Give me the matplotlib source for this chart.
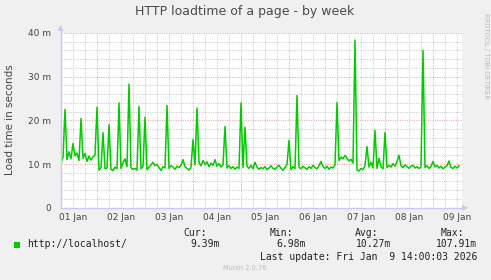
"""Munin style weekly graph: HTTP loadtime of a page."""

import matplotlib
matplotlib.use("Agg")
import matplotlib.pyplot as plt
from matplotlib.patches import Rectangle

W, H = 491, 280

# hourly averages in milliseconds ("m"), hour 0 = Jan 1 06:00, last = Jan 9 13:00
loadtime_ms = [
    10.2, 11.5, 22.5, 11.0, 12.8, 11.2, 14.7, 11.9, 12.5, 10.8,
    20.4, 11.3, 12.4, 10.6, 11.8, 10.9, 11.6, 12.1, 23.0, 8.6,
    9.2, 17.2, 8.9, 9.1, 19.0, 8.8, 8.5, 9.3, 8.9, 24.0,
    9.0, 10.3, 11.2, 9.4, 28.3, 9.1, 8.8, 9.0, 8.6, 23.2,
    8.9, 9.4, 20.7, 8.7, 9.3, 9.8, 10.4, 9.6, 9.9, 9.2,
    8.5, 9.4, 9.1, 23.4, 9.0, 9.6, 9.3, 8.8, 9.5, 9.2,
    9.7, 11.0, 9.4, 9.0, 8.6, 9.3, 15.6, 9.8, 22.8, 10.3,
    9.6, 10.8, 9.9, 10.5, 9.4, 10.2, 9.7, 11.0, 9.5, 10.1,
    9.3, 9.8, 18.6, 9.1, 9.6, 9.0, 9.4, 8.8, 9.3, 9.0,
    24.0, 9.2, 18.4, 9.5, 9.0, 9.7, 8.9, 10.4, 9.3, 8.8,
    9.2, 8.9, 9.4, 8.7, 9.1, 9.6, 9.0, 8.8, 9.3, 9.7,
    9.0, 8.6, 9.2, 9.9, 15.4, 8.7, 9.4, 9.0, 25.7, 9.3,
    8.9, 9.5, 9.1, 8.8, 9.4, 9.0, 9.7, 9.2, 8.9, 9.6,
    10.6, 9.4, 9.0, 9.5, 8.8, 9.3, 9.1, 9.8, 24.1, 10.8,
    11.6, 11.2, 12.0, 11.3, 10.7, 11.1, 10.2, 38.4, 8.6, 8.4,
    9.0, 8.7, 9.6, 14.0, 9.3, 10.4, 9.1, 17.7, 9.0, 11.3,
    9.4, 8.9, 17.2, 9.2, 9.7, 9.3, 10.1, 9.5, 10.6, 12.0,
    9.6, 9.2, 9.8, 9.4, 9.0, 9.5, 9.7, 9.1, 9.4, 9.0,
    9.3, 36.0, 9.2, 9.6, 9.0, 9.4, 10.6, 9.3, 9.7, 9.1,
    9.5, 8.9, 9.3, 9.6, 10.7, 9.2, 9.0, 9.5, 9.1, 9.6,
]
day_labels = ["01 Jan", "02 Jan", "03 Jan", "04 Jan", "05 Jan",
              "06 Jan", "07 Jan", "08 Jan", "09 Jan"]
y_ticks = [0, 10, 20, 30, 40]
y_tick_labels = ["0", "10 m", "20 m", "30 m", "40 m"]
legend_name = "http://localhost/"
legend_heads = ["Cur:", "Min:", "Avg:", "Max:"]
legend_values = ["9.39m", "6.98m", "10.27m", "107.91m"]
last_update = "Last update: Fri Jan  9 14:00:03 2026"

BG = "#F0F0F0"
LINE = "#00CC00"
MINOR = "#BEBEBE"
MAJOR = "#F09090"
AXIS = "#C8C8F5"


def fx(x):
    return x / W


def fy(y):
    return 1 - y / H


fig = plt.figure(figsize=(W / 100, H / 100), dpi=100, facecolor=BG)

left, right, top, bottom = 60.5, 461.5, 33.0, 207.7
ax = fig.add_axes([fx(left), fy(bottom), fx(right - left), fy(top) - fy(bottom)])
ax.set_facecolor("white")
for s in ax.spines.values():
    s.set_visible(False)

hours = list(range(len(loadtime_ms)))
ax.set_xlim(-0.25, 200.25)
ax.set_ylim(0, 40)

dots = (0, (1.2, 1.6))
# minor grid: every 6 h and every 2 m
for h in range(0, 201, 6):
    if (h - 18) % 24 != 0:
        ax.axvline(h, color=MINOR, lw=0.6, ls=dots, zorder=1)
for v in range(2, 41, 2):
    if v % 10 != 0:
        ax.axhline(v, color=MINOR, lw=0.6, ls=dots, zorder=1)
# major grid: midnight and every 10 m
for h in range(18, 201, 24):
    ax.axvline(h, color=MAJOR, lw=0.6, ls=dots, zorder=1)
for v in y_ticks[1:]:
    ax.axhline(v, color=MAJOR, lw=0.6, ls=dots, zorder=1)

ax.plot(hours, loadtime_ms, color=LINE, lw=1.1, zorder=3)

ax.set_yticks(y_ticks)
ax.set_yticklabels(y_tick_labels)
ax.set_xticks([6 + 24 * i for i in range(len(day_labels))])
ax.set_xticklabels(day_labels)
ax.tick_params(length=0, labelsize=6.5, labelcolor="#444444", pad=4)
ax.tick_params(axis="y", pad=7)

# axes with arrow heads
fig.add_artist(plt.Line2D([fx(left), fx(left)], [fy(bottom), fy(29)], color=AXIS, lw=1))
fig.add_artist(plt.Line2D([fx(left), fx(464)], [fy(bottom), fy(bottom)], color=AXIS, lw=1))
fig.add_artist(plt.Polygon([[fx(57.5), fy(31)], [fx(63.5), fy(31)], [fx(60.5), fy(25)]],
                           closed=True, color=AXIS, lw=0))
fig.add_artist(plt.Polygon([[fx(462), fy(204.7)], [fx(462), fy(210.7)], [fx(468), fy(207.7)]],
                           closed=True, color=AXIS, lw=0))

fig.text(fx(245), fy(12), "HTTP loadtime of a page - by week", ha="center", va="center",
         fontsize=9, color="#4A4A4A")
fig.text(fx(10), fy(120), "Load time in seconds", ha="center", va="center",
         rotation=90, fontsize=7.5, color="#444444")
fig.text(fx(486), fy(56), "RRDTOOL / TOBI OETIKER", ha="center", va="center",
         rotation=270, fontsize=4.9, color="#BBBBBB")

mono = dict(family="DejaVu Sans Mono", fontsize=7, color="#222222", va="center")
fig.add_artist(Rectangle((fx(14), fy(247.5)), fx(6), fy(241.5) - fy(247.5),
                         color=LINE, lw=0))
fig.text(fx(27), fy(244.3), legend_name, ha="left", **mono)
for head, val, xh, xv in zip(legend_heads, legend_values,
                             [207, 293, 378, 464], [220, 306, 391, 477]):
    fig.text(fx(xh), fy(232.7), head, ha="right", **mono)
    fig.text(fx(xv), fy(244.3), val, ha="right", **mono)
fig.text(fx(477), fy(256.7), last_update, ha="right", **mono)
fig.text(fx(245), fy(268.3), "Munin 2.0.76", ha="center", va="center",
         fontsize=4.8, color="#BBBBBB")

fig.savefig("out.png", dpi=100, facecolor=BG)
